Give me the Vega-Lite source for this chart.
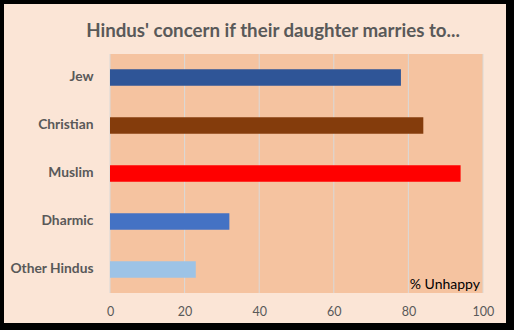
{
  "$schema": "https://vega.github.io/schema/vega-lite/v6.json",
  "width": 502,
  "height": 319,
  "autosize": {"type": "none"},
  "padding": {"left": 4, "top": 4, "right": 8, "bottom": 7},
  "background": "#000000",
  "view": {"fill": "#FBE5D6", "stroke": null},
  "config": {"font": "Lato"},
  "title": {
    "text": "Hindus' concern if their daughter marries to...",
    "font": "Lato",
    "fontSize": 18.7,
    "fontWeight": "bold",
    "color": "#595959",
    "anchor": "middle",
    "frame": "group",
    "offset": -37,
    "dx": 18
  },
  "datasets": {
    "unhappy": [
      {"group": "Jew", "pct": 78},
      {"group": "Christian", "pct": 84},
      {"group": "Muslim", "pct": 94},
      {"group": "Dharmic", "pct": 32},
      {"group": "Other Hindus", "pct": 23}
    ],
    "ticks": [{"t": 0}, {"t": 20}, {"t": 40}, {"t": 60}, {"t": 80}, {"t": 100}],
    "one": [{"k": 1}]
  },
  "layer": [
    {
      "data": {"name": "one"},
      "mark": {"type": "rect", "fill": "#F5C3A0"},
      "encoding": {
        "x": {"datum": 0, "type": "quantitative", "scale": {"domain": [-28.42, 106.17], "nice": false, "zero": false}},
        "x2": {"datum": 100},
        "y": {"datum": "Jew", "type": "nominal", "bandPosition": -0.258, "scale": {"domain": ["Jew", "Christian", "Muslim", "Dharmic", "Other Hindus"], "paddingInner": 0.354, "paddingOuter": 1, "align": 0.604, "round": false}},
        "y2": {"datum": "Other Hindus", "bandPosition": 1.258}
      }
    },
    {
      "data": {"name": "ticks"},
      "mark": {"type": "rule", "color": "#D9D9D9", "strokeWidth": 1},
      "encoding": {
        "x": {"field": "t", "type": "quantitative", "scale": {"domain": [-28.42, 106.17], "nice": false, "zero": false}},
        "y": {"datum": "Jew", "type": "nominal", "bandPosition": -0.258},
        "y2": {"datum": "Other Hindus", "bandPosition": 1.258}
      }
    },
    {
      "data": {"name": "unhappy"},
      "mark": {"type": "bar", "height": {"band": 0.532}},
      "encoding": {
        "x": {
          "field": "pct", "type": "quantitative",
          "scale": {"domain": [-28.42, 106.17], "nice": false, "zero": false},
          "axis": {"title": null, "values": [0, 20, 40, 60, 80, 100], "offset": -30, "domain": false, "ticks": false, "grid": false, "labelPadding": 12, "labelFontSize": 12.5, "labelColor": "#595959", "labelFont": "Lato", "labelFlush": false}
        },
        "y": {
          "field": "group", "type": "nominal", "sort": null,
          "axis": {"title": null, "orient": "left", "offset": -106, "domain": false, "ticks": false, "grid": false, "labelPadding": 17, "labelFont": "Lato", "labelFontSize": 13.8, "labelFontWeight": "bold", "labelColor": "#595959"}
        },
        "color": {
          "field": "group", "type": "nominal", "legend": null,
          "scale": {"domain": ["Jew", "Christian", "Muslim", "Dharmic", "Other Hindus"], "range": ["#2F5597", "#843C0C", "#FF0000", "#4472C4", "#9DC3E6"]}
        }
      }
    },
    {
      "data": {"name": "one"},
      "mark": {"type": "text", "text": "% Unhappy", "align": "right", "baseline": "middle", "dx": -3, "fontSize": 14, "font": "Lato", "color": "#000000"},
      "encoding": {
        "x": {"datum": 100, "type": "quantitative"},
        "y": {"datum": "Other Hindus", "type": "nominal", "bandPosition": 1.0}
      }
    }
  ]
}
